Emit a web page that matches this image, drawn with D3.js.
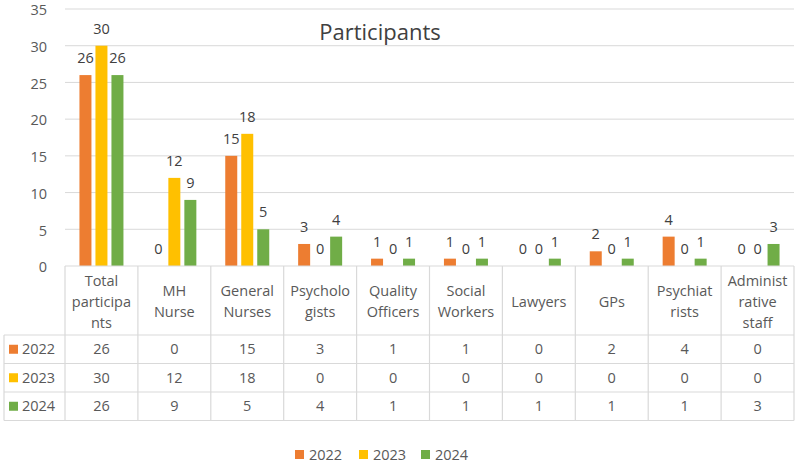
<!DOCTYPE html>
<html>
<head>
<meta charset="utf-8">
<script src="https://cdn.jsdelivr.net/npm/d3@7"></script>
<style>
  body { margin: 0; background: #fff; }
  svg { font-family: "Open Sans", "Noto Sans", sans-serif; }
</style>
</head>
<body>
<div class="chart"></div>
<script>
const WIDTH = 800;
const HEIGHT = 464;

var categories = ['Total participants', 'MH Nurse', 'General Nurses', 'Psychologists',
  'Quality Officers', 'Social Workers', 'Lawyers', 'GPs', 'Psychiatrists', 'Administrative staff'];
// how the table header wraps each category
var categoryLines = [['Total', 'participa', 'nts'], ['MH', 'Nurse'], ['General', 'Nurses'],
  ['Psycholo', 'gists'], ['Quality', 'Officers'], ['Social', 'Workers'], ['Lawyers'], ['GPs'],
  ['Psychiat', 'rists'], ['Administ', 'rative', 'staff']];
var years = ['2022', '2023', '2024'];
var values2022 = [26, 0, 15, 3, 1, 1, 0, 2, 4, 0];
var values2023 = [30, 12, 18, 0, 0, 0, 0, 0, 0, 0];
var values2024 = [26, 9, 5, 4, 1, 1, 1, 1, 1, 3];
var yTicks = [0, 5, 10, 15, 20, 25, 30, 35];
var colors = ['#ED7D31', '#FFC000', '#70AD47'];

var series = [values2022, values2023, values2024];

var plotLeft = 65, plotRight = 794, plotTop = 9, plotBottom = 266;
var headerBottom = 335;
var rowH = 28.5;
var tableLeft = 4;

var translate = function (x, y) {
  return 'translate(' + x + ',' + y + ')';
};

var xScale = d3.scaleBand()
  .domain(categories)
  .range([plotLeft, plotRight]);

var yScale = d3.scaleLinear()
  .domain([0, 35])
  .range([plotBottom, plotTop]);

var inner = d3.scaleBand()
  .domain(years)
  .range([xScale.bandwidth() / 2 - 22, xScale.bandwidth() / 2 + 22])
  .paddingInner(0.25);

var svg = d3.select('.chart').append('svg')
  .attr('width', WIDTH)
  .attr('height', HEIGHT);

// gridlines
svg.append('g')
  .selectAll('line')
  .data(yTicks.slice(1))
  .enter().append('line')
  .attr('x1', plotLeft).attr('x2', plotRight)
  .attr('y1', function (d) { return yScale(d); })
  .attr('y2', function (d) { return yScale(d); })
  .attr('stroke', '#d9d9d9')
  .attr('stroke-width', 1);

// y axis labels
var yAxis = d3.axisLeft(yScale).tickValues(yTicks).tickSize(0).tickPadding(18);
var yg = svg.append('g')
  .attr('transform', translate(plotLeft, 0))
  .call(yAxis);
yg.select('.domain').remove();
yg.selectAll('text')
  .attr('dy', '0.4em')
  .attr('fill', '#595959')
  .style('font-size', '14.5px')
  .style('font-family', '"Open Sans", sans-serif');

// title
svg.append('text')
  .attr('x', 380).attr('y', 40)
  .attr('text-anchor', 'middle')
  .attr('fill', '#404040')
  .style('font-size', '22px')
  .text('Participants');

// bars
series.forEach(function (vals, s) {
  var g = svg.append('g');
  g.selectAll('rect')
    .data(vals)
    .enter().append('rect')
    .attr('x', function (d, i) { return xScale(categories[i]) + inner(years[s]); })
    .attr('width', inner.bandwidth())
    .attr('y', function (d) { return yScale(d); })
    .attr('height', function (d) { return yScale(0) - yScale(d); })
    .attr('fill', colors[s]);

  g.selectAll('text')
    .data(vals)
    .enter().append('text')
    .attr('x', function (d, i) { return xScale(categories[i]) + inner(years[s]) + inner.bandwidth() / 2; })
    .attr('y', function (d) { return yScale(d) - 12; })
    .attr('text-anchor', 'middle')
    .attr('fill', '#404040')
    .style('font-size', '14.5px')
    .text(function (d) { return d; });
});

// data table
var table = svg.append('g').attr('stroke', '#d9d9d9').attr('stroke-width', 1.2);
var tableBottom = headerBottom + rowH * 3;
table.append('line').attr('x1', plotLeft).attr('x2', plotRight).attr('y1', plotBottom).attr('y2', plotBottom);
[0, 1, 2, 3].forEach(function (r) {
  var y = headerBottom + r * rowH;
  table.append('line').attr('x1', tableLeft).attr('x2', plotRight).attr('y1', y).attr('y2', y);
});
categories.forEach(function (c) {
  var x = xScale(c);
  table.append('line').attr('x1', x).attr('x2', x).attr('y1', plotBottom).attr('y2', tableBottom);
});
table.append('line').attr('x1', plotRight).attr('x2', plotRight).attr('y1', plotBottom).attr('y2', tableBottom);
table.append('line').attr('x1', tableLeft).attr('x2', tableLeft).attr('y1', headerBottom).attr('y2', tableBottom);

// header labels
var header = svg.append('g');
categoryLines.forEach(function (lines, i) {
  var cx = xScale(categories[i]) + xScale.bandwidth() / 2;
  var cy = (plotBottom + headerBottom) / 2 + 1;
  lines.forEach(function (ln, j) {
    header.append('text')
      .attr('x', cx)
      .attr('y', cy + (j - (lines.length - 1) / 2) * 21)
      .attr('dy', '0.35em')
      .attr('text-anchor', 'middle')
      .attr('fill', '#595959')
      .style('font-size', '14.5px')
      .text(ln);
  });
});

// rows
series.forEach(function (vals, s) {
  var cy = headerBottom + rowH * s + rowH / 2;
  var row = svg.append('g');
  row.append('rect')
    .attr('x', 9).attr('y', cy - 4.5).attr('width', 9).attr('height', 9)
    .attr('fill', colors[s]);
  row.append('text')
    .attr('x', 22).attr('y', cy).attr('dy', '0.35em')
    .attr('fill', '#595959').style('font-size', '14.5px')
    .text(years[s]);
  row.selectAll('text.v')
    .data(vals)
    .enter().append('text')
    .attr('class', 'v')
    .attr('x', function (d, i) { return xScale(categories[i]) + xScale.bandwidth() / 2; })
    .attr('y', cy).attr('dy', '0.35em')
    .attr('text-anchor', 'middle')
    .attr('fill', '#595959').style('font-size', '14.5px')
    .text(function (d) { return d; });
});

// legend
var legendX = [295, 359, 421];
var legend = svg.append('g');
years.forEach(function (y, s) {
  legend.append('rect')
    .attr('x', legendX[s]).attr('y', 450).attr('width', 9).attr('height', 9)
    .attr('fill', colors[s]);
  legend.append('text')
    .attr('x', legendX[s] + 14).attr('y', 455).attr('dy', '0.35em')
    .attr('fill', '#595959').style('font-size', '14.5px')
    .text(y);
});
</script>
</body>
</html>
